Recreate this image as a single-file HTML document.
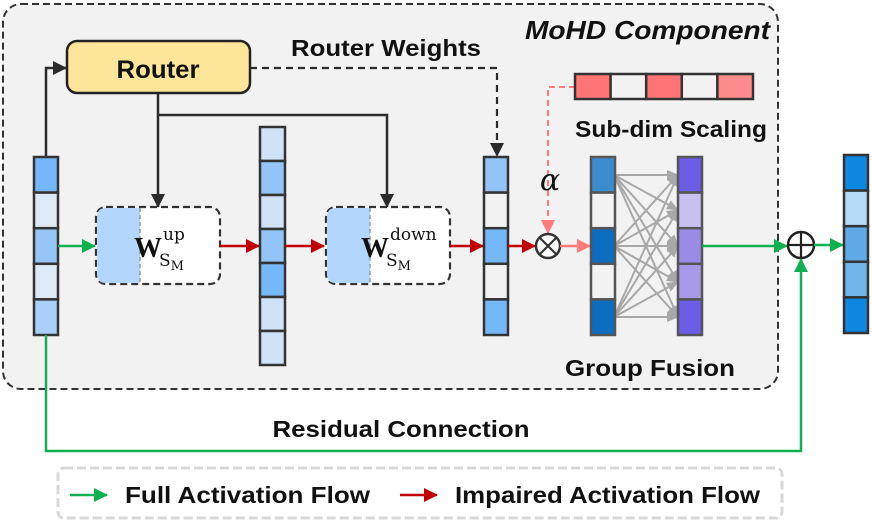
<!DOCTYPE html>
<html><head><meta charset="utf-8"><style>
html,body{margin:0;padding:0;background:#fff;}
svg{display:block;}
.b{font-family:"Liberation Sans",sans-serif;font-weight:bold;}
</style></head><body>
<svg width="872" height="528" viewBox="0 0 872 528" xmlns="http://www.w3.org/2000/svg">
<defs>
<marker id="ak2" markerWidth="14" markerHeight="14" refX="13" refY="7" orient="auto" markerUnits="userSpaceOnUse"><path d="M0,0 L14,7 L0,14 Z" fill="#2b2b2b"/></marker>
<marker id="ag" markerWidth="14" markerHeight="14" refX="13" refY="7" orient="auto" markerUnits="userSpaceOnUse"><path d="M0,0 L14,7 L0,14 Z" fill="#10b050"/></marker>
<marker id="ar" markerWidth="14" markerHeight="14" refX="13" refY="7" orient="auto" markerUnits="userSpaceOnUse"><path d="M0,0 L14,7 L0,14 Z" fill="#c00000"/></marker>
<marker id="ap" markerWidth="14" markerHeight="14" refX="13" refY="7" orient="auto" markerUnits="userSpaceOnUse"><path d="M0,0 L14,7 L0,14 Z" fill="#ff7a7a"/></marker>
<marker id="agr" markerWidth="12" markerHeight="10" refX="11" refY="5" orient="auto" markerUnits="userSpaceOnUse"><path d="M0,0 L12,5 L0,10 Z" fill="#a8a8a8"/></marker>
</defs>
<rect x="3" y="4" width="775" height="385" rx="18" fill="#f2f2f2" stroke="#333" stroke-width="2" stroke-dasharray="7,4"/>
<text x="770" y="39" class="b" font-size="26" font-style="italic" text-anchor="end" fill="#111" textLength="245" lengthAdjust="spacingAndGlyphs">MoHD Component</text>

<rect x="67" y="41" width="183" height="52" rx="10" fill="#fde59a" stroke="#222" stroke-width="2.5"/>
<text x="158" y="78" class="b" font-size="25" text-anchor="middle" fill="#111" textLength="83" lengthAdjust="spacingAndGlyphs">Router</text>
<text x="386" y="56" class="b" font-size="23" text-anchor="middle" fill="#111" textLength="190" lengthAdjust="spacingAndGlyphs">Router Weights</text>

<polyline points="46,157 46,68 66,68" fill="none" stroke="#2b2b2b" stroke-width="2.5" marker-end="url(#ak2)"/>
<polyline points="158,93 158,207" fill="none" stroke="#2b2b2b" stroke-width="2.5" marker-end="url(#ak2)"/>
<polyline points="158,115 387,115 387,207" fill="none" stroke="#2b2b2b" stroke-width="2.5" marker-end="url(#ak2)"/>
<polyline points="250,68 497,68 497,156" fill="none" stroke="#2b2b2b" stroke-width="2.2" stroke-dasharray="7,5" marker-end="url(#ak2)"/>

<g stroke="#333" stroke-width="2.5">
<rect x="34" y="157" width="24" height="35.6" fill="#74b8fb"/>
<rect x="34" y="192.6" width="24" height="35.6" fill="#dde9f5"/>
<rect x="34" y="228.2" width="24" height="35.6" fill="#96c6f7"/>
<rect x="34" y="263.8" width="24" height="35.6" fill="#dde9f5"/>
<rect x="34" y="299.4" width="24" height="35.6" fill="#a8d0f9"/>
</g>
<line x1="58" y1="246" x2="95" y2="246" stroke="#10b050" stroke-width="2.5" marker-end="url(#ag)"/>

<rect x="96" y="207" width="124" height="77" rx="10" fill="#fff" stroke="#333" stroke-width="2.2" stroke-dasharray="7,4"/>
<path d="M106,208 H140 V283 H106 Q97,283 97,274 V217 Q97,208 106,208 Z" fill="#b3d7fc"/>
<line x1="140" y1="208" x2="140" y2="283" stroke="#999" stroke-width="1.5" stroke-dasharray="4,3"/>
<text x="134" y="257" font-family="Liberation Serif,serif" font-weight="bold" font-size="28" fill="#111">W</text>
<text x="163" y="240" font-family="DejaVu Serif,serif" font-size="17" fill="#111">up</text>
<text x="159" y="266" font-family="DejaVu Serif,serif" font-size="17" fill="#111">S<tspan font-size="13" dy="4">M</tspan></text>
<line x1="220" y1="246" x2="259" y2="246" stroke="#c00000" stroke-width="2.5" marker-end="url(#ar)"/>

<g stroke="#333" stroke-width="2.5">
<rect x="260" y="127" width="25" height="34" fill="#cfe2f7"/>
<rect x="260" y="161" width="25" height="34" fill="#93c4f7"/>
<rect x="260" y="195" width="25" height="34" fill="#cfe2f7"/>
<rect x="260" y="229" width="25" height="34" fill="#93c4f7"/>
<rect x="260" y="263" width="25" height="34" fill="#74b8fb"/>
<rect x="260" y="297" width="25" height="34" fill="#cfe2f7"/>
<rect x="260" y="331" width="25" height="34" fill="#cfe2f7"/>
</g>
<line x1="285" y1="246" x2="324" y2="246" stroke="#c00000" stroke-width="2.5" marker-end="url(#ar)"/>

<rect x="326" y="207" width="124" height="77" rx="10" fill="#fff" stroke="#333" stroke-width="2.2" stroke-dasharray="7,4"/>
<path d="M336,208 H370 V283 H336 Q327,283 327,274 V217 Q327,208 336,208 Z" fill="#b3d7fc"/>
<line x1="370" y1="208" x2="370" y2="283" stroke="#999" stroke-width="1.5" stroke-dasharray="4,3"/>
<text x="361" y="257" font-family="Liberation Serif,serif" font-weight="bold" font-size="28" fill="#111">W</text>
<text x="390" y="240" font-family="DejaVu Serif,serif" font-size="17" fill="#111">down</text>
<text x="386" y="266" font-family="DejaVu Serif,serif" font-size="17" fill="#111">S<tspan font-size="13" dy="4">M</tspan></text>
<line x1="450" y1="246" x2="483" y2="246" stroke="#c00000" stroke-width="2.5" marker-end="url(#ar)"/>

<g stroke="#333" stroke-width="2.5">
<rect x="484" y="157" width="24" height="35.6" fill="#93c4f7"/>
<rect x="484" y="192.6" width="24" height="35.6" fill="#f2f2f2"/>
<rect x="484" y="228.2" width="24" height="35.6" fill="#74b8fb"/>
<rect x="484" y="263.8" width="24" height="35.6" fill="#f2f2f2"/>
<rect x="484" y="299.4" width="24" height="35.6" fill="#74b8fb"/>
</g>
<line x1="508" y1="246" x2="535" y2="246" stroke="#c00000" stroke-width="2.5" marker-end="url(#ar)"/>

<polyline points="575,87 548,87 548,233" fill="none" stroke="#ff7a7a" stroke-width="2" stroke-dasharray="6,4" marker-end="url(#ap)"/>
<text x="550" y="190" font-family="DejaVu Serif,serif" font-style="italic" font-size="30" text-anchor="middle" fill="#111">α</text>
<g stroke="#333" stroke-width="2.5">
<rect x="575" y="74" width="35.6" height="25" fill="#ff7575"/>
<rect x="610.6" y="74" width="35.6" height="25" fill="#f2f2f2"/>
<rect x="646.2" y="74" width="35.6" height="25" fill="#ff7575"/>
<rect x="681.8" y="74" width="35.6" height="25" fill="#f2f2f2"/>
<rect x="717.4" y="74" width="35.6" height="25" fill="#ff8c8c"/>
</g>
<text x="671" y="137" class="b" font-size="23" text-anchor="middle" fill="#111" textLength="192" lengthAdjust="spacingAndGlyphs">Sub-dim Scaling</text>

<circle cx="548" cy="246" r="12" fill="#fff" stroke="#333" stroke-width="2.5"/>
<line x1="540" y1="238" x2="556" y2="254" stroke="#333" stroke-width="2.2"/>
<line x1="556" y1="238" x2="540" y2="254" stroke="#333" stroke-width="2.2"/>
<line x1="560" y1="246" x2="590" y2="246" stroke="#ff7a7a" stroke-width="2.5" marker-end="url(#ap)"/>

<g stroke="#a8a8a8" stroke-width="2" marker-end="url(#agr)">
<line x1="614" y1="175" x2="678" y2="175"/><line x1="614" y1="175" x2="678" y2="210"/><line x1="614" y1="175" x2="678" y2="246"/><line x1="614" y1="175" x2="678" y2="282"/><line x1="614" y1="175" x2="678" y2="317"/>
<line x1="614" y1="246" x2="678" y2="175"/><line x1="614" y1="246" x2="678" y2="210"/><line x1="614" y1="246" x2="678" y2="246"/><line x1="614" y1="246" x2="678" y2="282"/><line x1="614" y1="246" x2="678" y2="317"/>
<line x1="614" y1="317" x2="678" y2="175"/><line x1="614" y1="317" x2="678" y2="210"/><line x1="614" y1="317" x2="678" y2="246"/><line x1="614" y1="317" x2="678" y2="282"/><line x1="614" y1="317" x2="678" y2="317"/>
</g>
<g stroke="#555" stroke-width="2.5">
<rect x="591" y="157" width="24" height="35.6" fill="#3a8ccc"/>
<rect x="591" y="192.6" width="24" height="35.6" fill="#f2f2f2"/>
<rect x="591" y="228.2" width="24" height="35.6" fill="#0a6dbf"/>
<rect x="591" y="263.8" width="24" height="35.6" fill="#f2f2f2"/>
<rect x="591" y="299.4" width="24" height="35.6" fill="#0a6dbf"/>
<rect x="678" y="157" width="24" height="35.6" fill="#6d5ce6"/>
<rect x="678" y="192.6" width="24" height="35.6" fill="#c8c0ee"/>
<rect x="678" y="228.2" width="24" height="35.6" fill="#9a8ce6"/>
<rect x="678" y="263.8" width="24" height="35.6" fill="#a89ae8"/>
<rect x="678" y="299.4" width="24" height="35.6" fill="#6d5ce6"/>
</g>
<text x="650" y="376" class="b" font-size="23" text-anchor="middle" fill="#111" textLength="170" lengthAdjust="spacingAndGlyphs">Group Fusion</text>

<line x1="702" y1="246" x2="787" y2="246" stroke="#10b050" stroke-width="2.5" marker-end="url(#ag)"/>
<circle cx="801" cy="245" r="13" fill="#fff" stroke="#222" stroke-width="2.5"/>
<line x1="788" y1="245" x2="814" y2="245" stroke="#222" stroke-width="2.2"/>
<line x1="801" y1="232" x2="801" y2="258" stroke="#222" stroke-width="2.2"/>
<line x1="814" y1="245" x2="843" y2="245" stroke="#10b050" stroke-width="2.5" marker-end="url(#ag)"/>
<g stroke="#333" stroke-width="2.5">
<rect x="844" y="155" width="24" height="35.6" fill="#0f86e0"/>
<rect x="844" y="190.6" width="24" height="35.6" fill="#b6dbf7"/>
<rect x="844" y="226.2" width="24" height="35.6" fill="#5ea9e6"/>
<rect x="844" y="261.8" width="24" height="35.6" fill="#70b5ea"/>
<rect x="844" y="297.4" width="24" height="35.6" fill="#0f86e0"/>
</g>

<polyline points="46,335 46,451 801,451 801,259" fill="none" stroke="#10b050" stroke-width="2.5" marker-end="url(#ag)"/>
<text x="401" y="437" class="b" font-size="23" text-anchor="middle" fill="#111" textLength="257" lengthAdjust="spacingAndGlyphs">Residual Connection</text>

<rect x="58" y="468" width="724" height="50" rx="6" fill="#fff" stroke="#d8d8d8" stroke-width="3" stroke-dasharray="9,4"/>
<line x1="70" y1="495" x2="107" y2="495" stroke="#10b050" stroke-width="2.5" marker-end="url(#ag)"/>
<text x="125" y="503" class="b" font-size="23" fill="#111" textLength="245" lengthAdjust="spacingAndGlyphs">Full Activation Flow</text>
<line x1="400" y1="495" x2="437" y2="495" stroke="#c00000" stroke-width="2.5" marker-end="url(#ar)"/>
<text x="455" y="503" class="b" font-size="23" fill="#111" textLength="305" lengthAdjust="spacingAndGlyphs">Impaired Activation Flow</text>
</svg>
</body></html>
